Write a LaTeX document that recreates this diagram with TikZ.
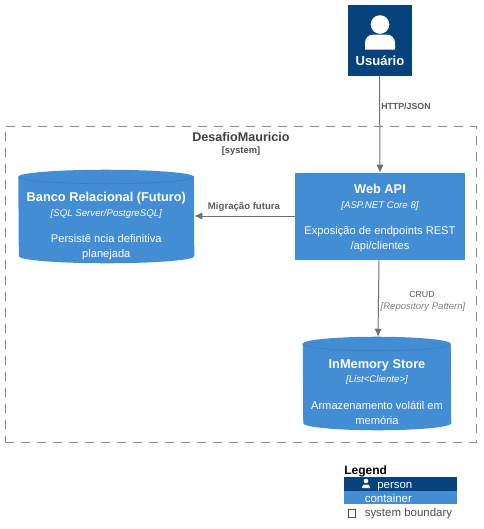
\documentclass[tikz,border=0pt]{standalone}
\usepackage{fontspec}
\setmainfont{Liberation Sans}
\usetikzlibrary{arrows.meta}
\definecolor{persondark}{HTML}{08427B}
\definecolor{contblue}{HTML}{438DD5}
\definecolor{rimblue}{HTML}{3C7FC0}
\definecolor{linegray}{HTML}{707070}
\definecolor{labelgray}{HTML}{5A5A5A}
\definecolor{dashgray}{HTML}{8A8A8A}
\tikzset{
  x=0.75pt,y=-0.75pt,
  contbox/.style={fill=contblue,draw=none,inner sep=0pt},
  dbbox/.style={draw=none,fill=none,inner sep=0pt},
  boxtext/.style={text=white,align=center,font=\fontsize{8.35}{11.25}\selectfont,inner sep=0pt},
  conn/.style={draw=linegray,line width=0.75pt,-{Latex[length=6pt,width=5.5pt]}},
  lbl/.style={text=labelgray,font=\fontsize{6.6}{8}\selectfont\bfseries,inner sep=0pt},
  legtext/.style={font=\fontsize{8.6}{10}\selectfont,inner sep=0pt,anchor=base west},
}
\newcommand{\ttl}[1]{{\fontsize{9.6}{11.25}\selectfont\bfseries #1}}
\newcommand{\tech}[1]{{\fontsize{7.25}{11.25}\selectfont\itshape #1}}
% name, half width in pt
\newcommand{\dbshape}[2]{%
  \fill[contblue] ([yshift=-5.25pt]#1.north west) arc[start angle=180,end angle=0,x radius=#2pt,y radius=5.25pt]
    -- ([yshift=5.25pt]#1.south east) arc[start angle=0,end angle=-180,x radius=#2pt,y radius=5.25pt] -- cycle;
  \draw[rimblue,line width=0.5pt] ([yshift=-5.25pt]#1.north west) arc[start angle=180,end angle=360,x radius=#2pt,y radius=5.25pt];
}
\begin{document}
\begin{tikzpicture}
\useasboundingbox (0,0) rectangle (484,529);
% boundary
\node[draw=dashgray,dash pattern=on 7pt off 5pt,line width=0.75pt,minimum width=471*0.75pt,minimum height=316*0.75pt,inner sep=0pt] (sys) at (240.5,284) {};
\node[text=black!75,font=\fontsize{9.45}{12}\selectfont\bfseries,inner sep=0pt] (systitle) at (241,137) {DesafioMauricio};
\node[text=black!70,font=\fontsize{7}{8}\selectfont\bfseries,inner sep=0pt] (systag) at (241,151) {[system]};
% person
\node[fill=persondark,minimum width=64*0.75pt,minimum height=71*0.75pt,inner sep=0pt] (user) at (379.5,40.5) {};
\fill[white] (380,24.5) circle (9.3);
\fill[white] (365,49.5) -- (365,44) .. controls (365,37) and (369,34.5) .. (374,34.5) -- (386,34.5) .. controls (391,34.5) and (395,37) .. (395,44) -- (395,49.5) -- cycle;
\node[text=white,font=\fontsize{9.8}{12}\selectfont\bfseries,inner sep=0pt] (usertxt) at (380,61) {Usuário};
% boxes
\node[contbox,minimum width=170*0.75pt,minimum height=87*0.75pt] (api) at (380,216.5) {};
\node[dbbox,minimum width=175.5*0.75pt,minimum height=93*0.75pt] (banco) at (106.3,216.5) {};
\node[dbbox,minimum width=148*0.75pt,minimum height=93*0.75pt] (mem) at (377,383.5) {};
\dbshape{banco}{65.81}
\dbshape{mem}{55.5}
\node[boxtext] (apit) at (380,218.5) {\ttl{Web API}\\\tech{[ASP.NET Core 8]}\\[8.25pt]Exposição de endpoints REST\\/api/clientes};
\node[boxtext] (bancot) at (106.3,226) {\ttl{Banco Relacional (Futuro)}\\\tech{[SQL Server/PostgreSQL]}\\[8.25pt]Persistê ncia definitiva\\planejada};
\node[boxtext] (memt) at (377,392.5) {\ttl{InMemory Store}\\[-0.75pt]\tech{[List<Cliente>]}\\[9pt]Armazenamento volátil em\\memória};
% connectors
\draw[conn] (user.south) -- (api.north);
\draw[conn] (api.west |- 0,216) -- (banco.east |- 0,216);
\draw[conn] (api.south -| 379,0) -- (mem.north -| 378,0);
\node[lbl,anchor=west] (l1) at (381,106) {HTTP/JSON};
\node[lbl,font=\fontsize{7.2}{8}\selectfont\bfseries] (l2) at (244,207.5) {Migração futura};
\node[text=labelgray,font=\fontsize{6.6}{8}\selectfont,inner sep=0pt] (l3) at (422,294) {CRUD};
\node[text=gray,font=\fontsize{7.2}{8}\selectfont\itshape,inner sep=0pt] (l4) at (423,307) {[Repository Pattern]};
% legend
\node[font=\fontsize{9}{10}\selectfont\bfseries,inner sep=0pt,anchor=base west] (legt) at (344,474) {Legend};
\node[fill=persondark,minimum width=113*0.75pt,minimum height=14*0.75pt,inner sep=0pt] (leg1) at (400.5,483.7) {};
\node[fill=contblue,minimum width=113*0.75pt,minimum height=13.6*0.75pt,inner sep=0pt] (leg2) at (400.5,497.5) {};
\fill[white] (366,481) circle (2.3);
\fill[white] (362,488) -- (362,487) .. controls (362,485) and (364,484.5) .. (366,484.5) .. controls (368,484.5) and (370,485) .. (370,487) -- (370,488) -- cycle;
\node[legtext,text=white] (lp) at (377,488) {person};
\node[legtext,text=white] (lc) at (364.5,502) {container};
\draw[black!70,line width=0.5pt] (348.5,509) rectangle (355,517);
\node[legtext,text=black!70] (ls) at (364.5,516) {system boundary};
\end{tikzpicture}
\end{document}
